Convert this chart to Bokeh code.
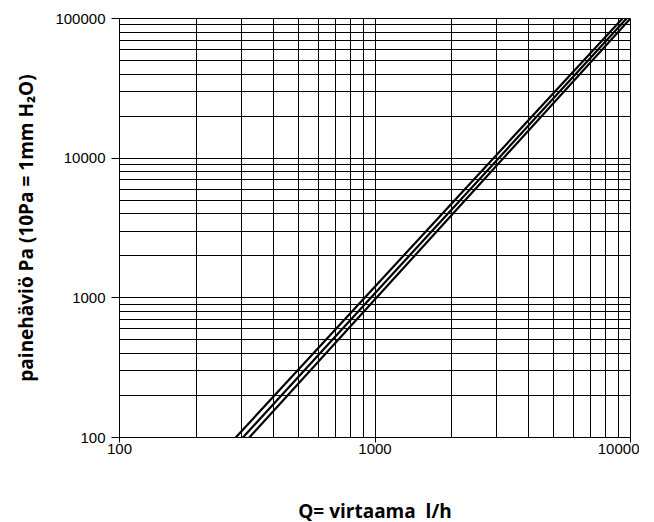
from bokeh.plotting import figure
from bokeh.models import FixedTicker, Range1d
from bokeh.embed import file_html
from bokeh.resources import INLINE

# data (flow l/h, pressure drop Pa)
q_a = [285, 9300]
p_a = [100, 100000]
q_b = [304, 9650]
p_b = [100, 100000]
q_c = [322, 10000]
p_c = [100, 100000]

x_major = [100, 1000, 10000]
x_minor = [200, 300, 400, 500, 600, 700, 800, 900,
           2000, 3000, 4000, 5000, 6000, 7000, 8000, 9000]
y_major = [100, 1000, 10000, 100000]
y_minor = [200, 300, 400, 500, 600, 700, 800, 900,
           2000, 3000, 4000, 5000, 6000, 7000, 8000, 9000,
           20000, 30000, 40000, 50000, 60000, 70000, 80000, 90000]

p = figure(frame_width=511, frame_height=419, x_axis_type="log", y_axis_type="log",
           x_range=Range1d(100, 10000), y_range=Range1d(100, 100000),
           output_backend="svg", toolbar_location=None)
p.min_border_left = 119
p.min_border_top = 18
p.min_border_right = 9
p.min_border_bottom = 10

p.xaxis.ticker = FixedTicker(ticks=x_major, minor_ticks=x_minor)
p.yaxis.ticker = FixedTicker(ticks=y_major, minor_ticks=y_minor)
p.xaxis.major_label_overrides = {v: str(v) for v in x_major}
p.yaxis.major_label_overrides = {v: str(v) for v in y_major}

for ax in (p.xaxis, p.yaxis):
    ax.axis_line_color = "black"
    ax.major_tick_line_color = "black"
    ax.major_tick_in = 0
    ax.minor_tick_out = 0
    ax.minor_tick_in = 0
    ax.major_label_text_font = "Liberation Sans"
    ax.major_label_text_font_size = "15px"
    ax.major_label_text_color = "black"
    ax.axis_label_text_font = "Open Sans"
    ax.axis_label_text_font_style = "bold"
    ax.axis_label_text_font_size = "19px"
    ax.axis_label_text_color = "black"

p.xaxis.major_tick_out = 5
p.yaxis.major_tick_out = 8
p.xaxis.axis_label = "Q= virtaama\u00a0 l/h"
p.yaxis.axis_label = "painehäviö Pa (10Pa = 1mm H₂O)"
p.xaxis.axis_label_standoff = 41
p.yaxis.axis_label_standoff = 13
p.xaxis.major_label_standoff = 1
p.yaxis.major_label_standoff = 6

for g in (p.xgrid, p.ygrid):
    g.grid_line_color = "black"
    g.grid_line_alpha = 1.0
    g.minor_grid_line_color = "black"
    g.minor_grid_line_alpha = 1.0

p.outline_line_color = "black"
p.outline_line_alpha = 1.0
p.background_fill_color = "white"
p.border_fill_color = "white"

for qs, ps in ((q_a, p_a), (q_b, p_b), (q_c, p_c)):
    p.line(qs, ps, line_color="black", line_width=2.2)

open("out.html", "w").write(file_html(p, INLINE))
